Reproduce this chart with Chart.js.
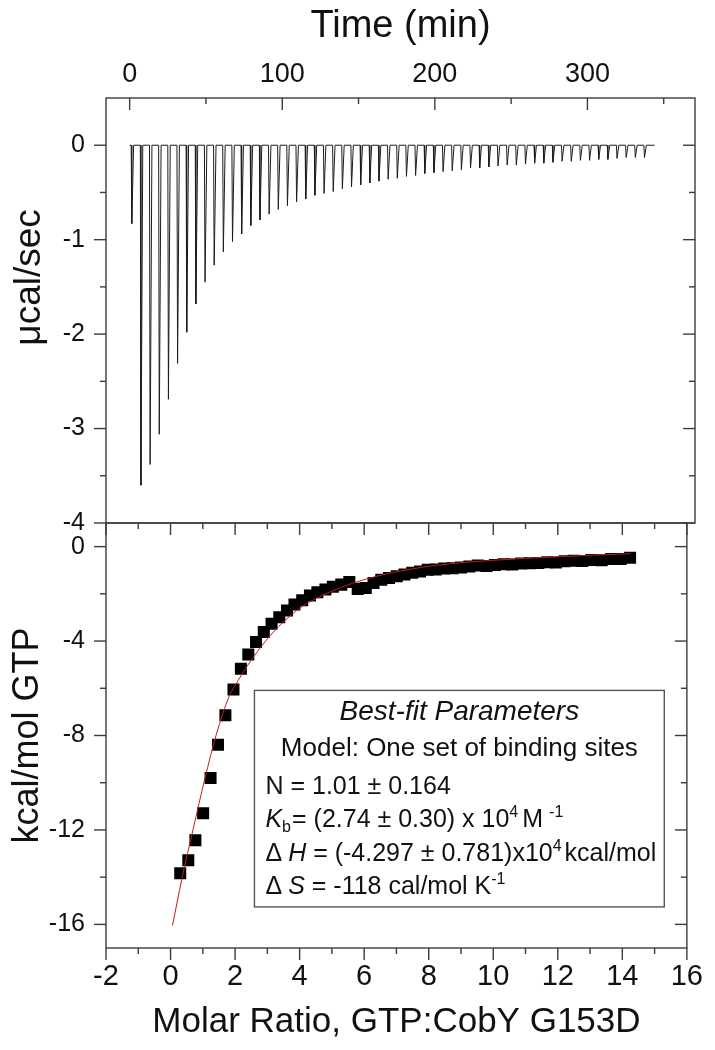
<!DOCTYPE html>
<html><head><meta charset="utf-8">
<script src="https://cdn.jsdelivr.net/npm/chart.js@4.4.1/dist/chart.umd.min.js"></script>
<style>
html,body{margin:0;padding:0;background:#fff;}
#wrap{position:relative;width:715px;height:1050px;}
#wrap canvas{position:absolute;left:0;top:0;}
</style></head><body>
<div id="wrap"><canvas id="topc" width="715" height="1050"></canvas><canvas id="botc" width="715" height="1050"></canvas></div>
<script>
const FONT = "'Liberation Sans', Arial, Helvetica, sans-serif";

// ---- Raw thermogram (top panel) ----
const thermoStart = 0;
const thermoEnd = 344;
const injectionTimes = [1,7,13,19,25,31,37,43,49,55,61,67,73,79,85,91,97,103,109,115,121,127,133,139,145,151,157,163,169,175,181,187,193,199,205,211,217,223,229,235,241,247,253,259,265,271,277,283,289,295,301,307,313,319,325,331,337];
const peakHeights = [-0.83,-3.60,-3.38,-3.06,-2.69,-2.31,-1.98,-1.68,-1.45,-1.27,-1.13,-1.02,-0.94,-0.85,-0.79,-0.73,-0.68,-0.64,-0.60,-0.57,-0.53,-0.51,-0.49,-0.46,-0.44,-0.42,-0.40,-0.38,-0.36,-0.35,-0.33,-0.32,-0.30,-0.29,-0.28,-0.27,-0.26,-0.24,-0.24,-0.23,-0.22,-0.21,-0.21,-0.20,-0.19,-0.19,-0.18,-0.17,-0.17,-0.16,-0.16,-0.15,-0.15,-0.14,-0.13,-0.13,-0.13];

// ---- Integrated heats (bottom panel) ----
const molarRatio = [0.30,0.55,0.77,1.01,1.24,1.47,1.70,1.95,2.18,2.41,2.65,2.89,3.13,3.37,3.61,3.84,4.08,4.32,4.55,4.80,5.03,5.29,5.54,5.80,6.05,6.29,6.53,6.77,7.01,7.25,7.49,7.73,7.97,8.22,8.48,8.74,9.00,9.26,9.52,9.79,10.05,10.32,10.59,10.86,11.13,11.40,11.67,11.94,12.21,12.49,12.76,13.04,13.36,13.65,13.95,14.24];
const heatPerMol = [-13.83,-13.28,-12.44,-11.29,-9.80,-8.39,-7.14,-6.05,-5.17,-4.57,-4.04,-3.62,-3.27,-2.99,-2.71,-2.45,-2.27,-2.07,-1.93,-1.82,-1.70,-1.61,-1.50,-1.79,-1.75,-1.54,-1.40,-1.33,-1.26,-1.18,-1.11,-1.05,-0.98,-0.97,-0.93,-0.92,-0.88,-0.84,-0.80,-0.82,-0.78,-0.75,-0.76,-0.72,-0.70,-0.69,-0.66,-0.67,-0.62,-0.60,-0.61,-0.57,-0.58,-0.52,-0.52,-0.47];
const fitRatio = [0.06,0.35,0.70,1.06,1.42,1.82,2.08,2.38,2.69,3.10,3.61,4.12,4.73,5.34,5.95,6.77,8.19,10.0,12.0,14.24];
const fitHeat  = [-16.05,-14.08,-11.97,-9.85,-7.95,-6.33,-5.70,-5.05,-4.45,-3.75,-3.05,-2.50,-2.05,-1.70,-1.42,-1.13,-0.80,-0.58,-0.43,-0.30];

// ---- Tick values ----
const timeLabelTicks = [0,100,200,300];
const timeMinorTicks = [50,150,250,350];
const rawLabelTicks = [-4,-3,-2,-1,0];
const rawMinorTicks = [-3.5,-2.5,-1.5,-0.5];
const ratioLabelTicks = [-2,0,2,4,6,8,10,12,14,16];
const ratioMinorTicks = [-1,1,3,5,7,9,11,13,15];
const heatLabelTicks = [-16,-12,-8,-4,0];
const heatMinorTicks = [-14,-10,-6,-2];

// build thermogram polyline from the injection list
const thermo = [{x: thermoStart, y: 0}];
injectionTimes.forEach((t, i) => {
  thermo.push({x: t, y: 0});
  thermo.push({x: t + 0.4, y: peakHeights[i]});
  thermo.push({x: t + 1.6, y: 0});
});
thermo.push({x: thermoEnd, y: 0});

const AXIS_COLOR = '#3c3c3c';
const TEXT_COLOR = '#111';

const frameTicks = {
  id: 'frameTicks',
  afterDatasetsDraw(chart, args, opts) {
    const {ctx, chartArea: a} = chart;
    ctx.save();
    ctx.strokeStyle = AXIS_COLOR;
    ctx.lineWidth = 1.4;
    ctx.strokeRect(a.left, a.top, a.right - a.left, a.bottom - a.top);
    for (const spec of opts.sets) {
      const s = chart.scales[spec.scale];
      [[spec.major, 12], [spec.minor, 6]].forEach(([vals, len]) => {
        vals.forEach(v => {
          const p = s.getPixelForValue(v);
          ctx.beginPath();
          if (spec.side === 'left') { ctx.moveTo(a.left - (spec.out ? len : 0), p); ctx.lineTo(a.left + (spec.out ? 0 : len), p); }
          if (spec.side === 'right') { ctx.moveTo(a.right + (spec.out ? len : 0), p); ctx.lineTo(a.right - (spec.out ? 0 : len), p); }
          if (spec.side === 'top') { ctx.moveTo(p, a.top - (spec.out ? len : 0)); ctx.lineTo(p, a.top + (spec.out ? 0 : len)); }
          if (spec.side === 'bottom') { ctx.moveTo(p, a.bottom + (spec.out ? len : 0)); ctx.lineTo(p, a.bottom - (spec.out ? 0 : len)); }
          ctx.stroke();
        });
      });
    }
    if (opts.yTitle) {
      const t = opts.yTitle;
      const ys = chart.scales.y;
      ctx.translate(t.x, ys.getPixelForValue(t.atValue));
      ctx.rotate(-Math.PI / 2);
      ctx.fillStyle = TEXT_COLOR;
      ctx.textAlign = 'center';
      ctx.textBaseline = 'middle';
      ctx.font = t.size + 'px ' + FONT;
      ctx.fillText(t.text, 0, 0);
    }
    ctx.restore();
  }
};

function drawRich(ctx, x, y, segs, size) {
  for (const s of segs) {
    let fs = size, dy = 0;
    if (s.sup) { fs = size * 0.64; dy = -size * 0.42; }
    if (s.sub) { fs = size * 0.64; dy = size * 0.2; }
    ctx.font = (s.i ? 'italic ' : '') + fs + 'px ' + FONT;
    ctx.fillText(s.t, x, y + dy);
    x += ctx.measureText(s.t).width + (s.gap || 0);
  }
}

const paramBox = {
  id: 'paramBox',
  afterDatasetsDraw(chart, args, opts) {
    const {ctx} = chart;
    const xs = chart.scales.x, ys = chart.scales.y;
    const L = xs.getPixelForValue(opts.x0), R = xs.getPixelForValue(opts.x1);
    const T = ys.getPixelForValue(opts.y0), B = ys.getPixelForValue(opts.y1);
    ctx.save();
    ctx.fillStyle = '#fff';
    ctx.fillRect(L, T, R - L, B - T);
    ctx.strokeStyle = '#555';
    ctx.lineWidth = 1.4;
    ctx.strokeRect(L, T, R - L, B - T);
    ctx.fillStyle = TEXT_COLOR;
    ctx.textBaseline = 'alphabetic';
    ctx.textAlign = 'center';
    ctx.font = 'italic 28px ' + FONT;
    ctx.fillText('Best-fit Parameters', (L + R) / 2, T + 30);
    ctx.font = '26px ' + FONT;
    ctx.fillText('Model: One set of binding sites', (L + R) / 2, T + 66);
    ctx.textAlign = 'left';
    const lx = L + 11, fs = 25;
    drawRich(ctx, lx, T + 104, [{t: 'N = 1.01 ± 0.164'}], fs);
    drawRich(ctx, lx, T + 137, [{t: 'K', i: 1}, {t: 'b', sub: 1, gap: 1}, {t: '= (2.74 ± 0.30) x 10'}, {t: '4', sup: 1, gap: 4}, {t: 'M', gap: 6}, {t: '-1', sup: 1}], fs);
    drawRich(ctx, lx, T + 171, [{t: 'Δ', gap: 6}, {t: 'H', i: 1}, {t: ' = (-4.297 ± 0.781)x10'}, {t: '4', sup: 1, gap: 3}, {t: 'kcal/mol'}], fs);
    drawRich(ctx, lx, T + 204, [{t: 'Δ', gap: 6}, {t: 'S', i: 1}, {t: ' = -118 cal/mol K'}, {t: '-1', sup: 1}], fs);
    ctx.restore();
  }
};

const tickFont = size => ({family: FONT, size: size});
const noGrid = {display: false, drawTicks: false, tickLength: 0};

new Chart(document.getElementById('topc'), {
  type: 'line',
  data: {datasets: [{data: thermo, borderColor: '#1c1c1c', borderWidth: 1, pointRadius: 0, tension: 0, fill: false}]},
  plugins: [frameTicks],
  options: {
    responsive: false, animation: false,
    layout: {padding: {left: 0, right: 20, top: 0, bottom: 527}},
    plugins: {
      legend: {display: false}, tooltip: {enabled: false},
      frameTicks: {
        sets: [
          {scale: 'x', side: 'top', out: false, major: timeLabelTicks, minor: timeMinorTicks},
          {scale: 'y', side: 'left', out: true, major: rawLabelTicks, minor: rawMinorTicks},
          {scale: 'y', side: 'right', out: false, major: rawLabelTicks, minor: rawMinorTicks}
        ],
        yTitle: {text: 'μcal/sec', size: 37, x: 30, atValue: -1.4}
      }
    },
    scales: {
      x: {
        type: 'linear', position: 'top', min: -15.5, max: 370.5,
        afterBuildTicks: s => { s.ticks = timeLabelTicks.map(v => ({value: v})); },
        afterFit: s => { s.height = 98; },
        grid: noGrid, border: {display: false},
        ticks: {font: tickFont(27), color: TEXT_COLOR, padding: 7, maxRotation: 0, autoSkip: false, callback: v => String(v)},
        title: {display: true, text: 'Time (min)', font: tickFont(38), color: TEXT_COLOR, padding: {top: 4, bottom: 0}}
      },
      y: {
        type: 'linear', position: 'left', min: -4, max: 0.5,
        afterBuildTicks: s => { s.ticks = rawLabelTicks.map(v => ({value: v})); },
        afterFit: s => { s.width = 106; },
        grid: noGrid, border: {display: false},
        ticks: {font: tickFont(25), color: TEXT_COLOR, padding: 21, autoSkip: false, callback: v => String(v)},
        title: {display: false}
      }
    }
  }
});

new Chart(document.getElementById('botc'), {
  type: 'scatter',
  data: {datasets: [
    {data: fitRatio.map((x, i) => ({x: x, y: fitHeat[i]})), showLine: true, borderColor: '#c41a1a', borderWidth: 1, pointRadius: 0, cubicInterpolationMode: 'monotone', order: 0},
    {data: molarRatio.map((x, i) => ({x: x, y: heatPerMol[i]})), pointStyle: 'rect', pointRadius: 8.5, backgroundColor: '#000', borderColor: '#000', borderWidth: 0, order: 1}
  ]},
  plugins: [frameTicks, paramBox],
  options: {
    responsive: false, animation: false,
    layout: {padding: {left: 0, right: 20, top: 523, bottom: 0}},
    plugins: {
      legend: {display: false}, tooltip: {enabled: false},
      frameTicks: {sets: [
        {scale: 'x', side: 'bottom', out: true, major: ratioLabelTicks, minor: ratioMinorTicks},
        {scale: 'x', side: 'top', out: false, major: ratioLabelTicks, minor: ratioMinorTicks},
        {scale: 'y', side: 'left', out: true, major: heatLabelTicks, minor: heatMinorTicks},
        {scale: 'y', side: 'right', out: false, major: heatLabelTicks, minor: heatMinorTicks}
      ]},
      paramBox: {x0: 2.6, x1: 15.3, y0: -6.09, y1: -15.26}
    },
    scales: {
      x: {
        type: 'linear', position: 'bottom', min: -2, max: 16,
        afterBuildTicks: s => { s.ticks = ratioLabelTicks.map(v => ({value: v})); },
        afterFit: s => { s.height = 102; },
        grid: noGrid, border: {display: false},
        ticks: {font: tickFont(29), color: TEXT_COLOR, padding: 12, maxRotation: 0, autoSkip: false, callback: v => String(v)},
        title: {display: true, text: 'Molar Ratio, GTP:CobY G153D', font: tickFont(35), color: TEXT_COLOR, padding: {top: 0, bottom: 7}}
      },
      y: {
        type: 'linear', position: 'left', min: -17, max: 1,
        afterBuildTicks: s => { s.ticks = heatLabelTicks.map(v => ({value: v})); },
        afterFit: s => { s.width = 106; },
        grid: noGrid, border: {display: false},
        ticks: {font: tickFont(25), color: TEXT_COLOR, padding: 21, autoSkip: false, callback: v => String(v)},
        title: {display: true, text: 'kcal/mol GTP', font: tickFont(36), color: TEXT_COLOR, padding: {top: 6, bottom: 0}}
      }
    }
  }
});
</script></body></html>
